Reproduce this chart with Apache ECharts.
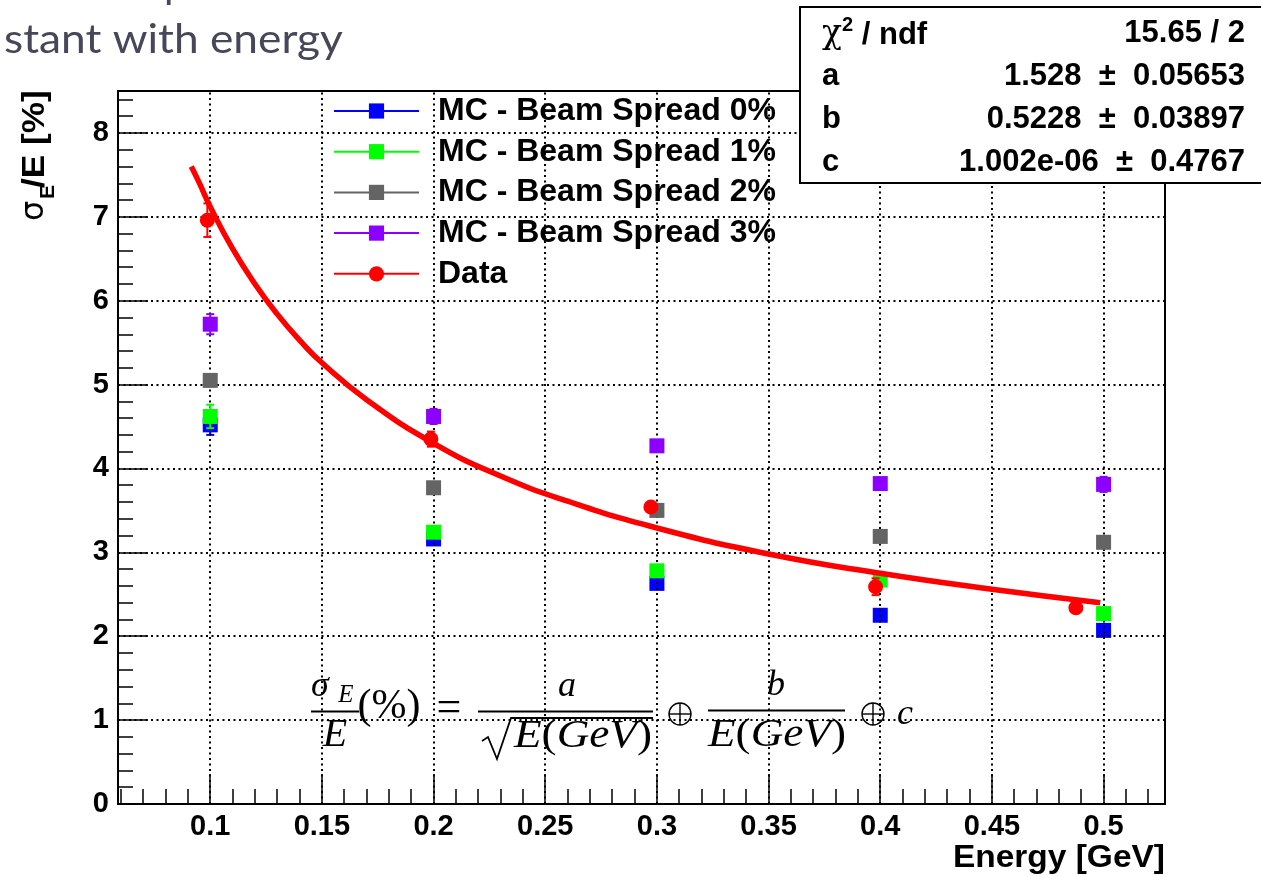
<!DOCTYPE html>
<html><head><meta charset="utf-8">
<script src="https://cdn.jsdelivr.net/npm/echarts@6/dist/echarts.min.js"></script>
<style>html,body{margin:0;padding:0;background:#fff}#c{width:1261px;height:876px}</style>
</head><body><div id="c"></div>
<script>
// ---------- data ----------
const energies = [0.1, 0.2, 0.3, 0.4, 0.5];
const mc0 = [4.52, 3.16, 2.63, 2.25, 2.07];
const mc0Err = [0.12, 0.03, 0.03, 0.03, 0.03];
const mc1 = [4.62, 3.24, 2.78, 2.67, 2.27];
const mc1Err = [0.14, 0.04, 0.03, 0.03, 0.03];
const mc2 = [5.05, 3.77, 3.50, 3.19, 3.12];
const mc2Err = [0.07, 0.04, 0.03, 0.03, 0.03];
const mc3 = [5.72, 4.62, 4.27, 3.82, 3.81];
const mc3Err = [0.12, 0.09, 0.04, 0.04, 0.09];
const dataE = [0.0987, 0.1988, 0.2973, 0.3979, 0.4876];
const dataV = [6.96, 4.35, 3.54, 2.59, 2.34];
const dataErr = [0.20, 0.09, 0.03, 0.10, 0.03];
const fitE = [0.0915, 0.095, 0.1, 0.11, 0.12, 0.13, 0.14, 0.15, 0.17, 0.2, 0.23, 0.26, 0.3, 0.35, 0.4, 0.45, 0.4985];
const fitV = [7.60, 7.41, 7.12, 6.62, 6.20, 5.84, 5.53, 5.26, 4.82, 4.30, 3.91, 3.61, 3.29, 2.98, 2.75, 2.56, 2.40];
const legendNames = ['MC - Beam Spread 0%', 'MC - Beam Spread 1%', 'MC - Beam Spread 2%', 'MC - Beam Spread 3%', 'Data'];
const xTicks = [0.1, 0.15, 0.2, 0.25, 0.3, 0.35, 0.4, 0.45, 0.5];
const xTickLabels = ['0.1', '0.15', '0.2', '0.25', '0.3', '0.35', '0.4', '0.45', '0.5'];
const yTicks = [0, 1, 2, 3, 4, 5, 6, 7, 8];
const yTickLabels = ['0', '1', '2', '3', '4', '5', '6', '7', '8'];
const statsLabels = ['a', 'b', 'c'];
const statsChi = '15.65 / 2';
const statsValues = ['1.528  ±  0.05653', '0.5228  ±  0.03897', '1.002e-06  ±  0.4767'];
const xTitle = 'Energy [GeV]';
const slideText = 'stant with energy';

// ---------- helpers ----------
const FF = "'Liberation Sans', Arial, Helvetica, sans-serif";
const SERIF = "'Liberation Serif', 'DejaVu Serif', serif";
const X_MIN = 0.0587, X_MAX = 0.5275, Y_MIN = 0, Y_MAX = 8.5;
const xMinor = []; for (let i = 6; i <= 52; i++) xMinor.push(+(i / 100).toFixed(2));
const yMinor = []; for (let i = 0; i <= 42; i++) yMinor.push(+(i / 5).toFixed(1));

const pts = (xs, ys) => xs.map((x, i) => [x, ys[i]]);
const errPts = (xs, ys, es) => xs.map((x, i) => [x, ys[i], es[i]]);

function markerSeries(name, xs, ys, color, symbol, z) {
  return {
    type: 'line', name, data: pts(xs, ys), symbol, symbolSize: 15, showSymbol: true, showAllSymbol: true,
    itemStyle: { color }, lineStyle: { color, width: 2, opacity: 0 }, z, silent: true,
    emphasis: { disabled: true }
  };
}
function errorSeries(xs, ys, es, color, z) {
  return {
    type: 'custom', data: errPts(xs, ys, es), z, silent: true, encode: { x: 0, y: 1 },
    renderItem(params, api) {
      const x = api.value(0), y = api.value(1), e = api.value(2);
      const t = api.coord([x, y + e]), b = api.coord([x, y - e]);
      const cw = 4, st = { stroke: color, lineWidth: 2 };
      return { type: 'group', children: [
        { type: 'line', shape: { x1: t[0], y1: t[1], x2: b[0], y2: b[1] }, style: st },
        { type: 'line', shape: { x1: t[0] - cw, y1: t[1], x2: t[0] + cw, y2: t[1] }, style: st },
        { type: 'line', shape: { x1: b[0] - cw, y1: b[1], x2: b[0] + cw, y2: b[1] }, style: st }
      ]};
    }
  };
}

const colors = ['#0000ff', '#00ff00', '#646464', '#8c00ff', '#ff0000'];

const chart = echarts.init(document.getElementById('c'), null, { renderer: 'canvas' });

const gridLines = [
  ...xTicks.map(v => ({ xAxis: v })),
  ...yTicks.filter(v => v > 0).map(v => ({ yAxis: v }))
];

// formula pieces (decorative text)
const italic = { fontFamily: SERIF, fontStyle: 'italic', fill: '#000' };
const upright = { fontFamily: SERIF, fontStyle: 'normal', fill: '#000' };
function T(text, x, y, size, st, sx) {
  return { type: 'text', x, y, scaleX: sx || 1, silent: true, z: 20,
    style: Object.assign({ text, fontSize: size, align: 'center', verticalAlign: 'middle' }, st) };
}
function richEGeV(x, y) {
  return { type: 'text', x, y, scaleX: 1.13, silent: true, z: 20, style: {
    text: '{i|E}{u|(}{i|GeV}{u|)}', align: 'center', verticalAlign: 'middle',
    rich: { i: Object.assign({ fontSize: 40 }, italic), u: Object.assign({ fontSize: 40 }, upright) } } };
}
function HL(x1, x2, y) {
  return { type: 'line', silent: true, z: 20, shape: { x1, y1: y, x2, y2: y }, style: { stroke: '#000', lineWidth: 1.8 } };
}
function oplus(cx, cy) {
  return { type: 'group', silent: true, z: 20, children: [
    { type: 'circle', shape: { cx, cy, r: 11 }, style: { fill: 'none', stroke: '#000', lineWidth: 1.4 } },
    { type: 'line', shape: { x1: cx - 11, y1: cy, x2: cx + 11, y2: cy }, style: { stroke: '#000', lineWidth: 1.4 } },
    { type: 'line', shape: { x1: cx, y1: cy - 11, x2: cx, y2: cy + 11 }, style: { stroke: '#000', lineWidth: 1.4 } }
  ]};
}

const graphics = [
  // slide title fragment
  { type: 'text', x: 4, y: 40, scaleX: 1.08, silent: true, style: { text: slideText, fontFamily: 'Lato, "Open Sans", sans-serif', fontSize: 41, fill: '#474759', align: 'left', verticalAlign: 'middle' } },
  { type: 'text', x: 164, y: -15, silent: true, style: { text: 'p', fontFamily: 'Lato, "Open Sans", sans-serif', fontSize: 41, fill: '#474759', align: 'left', verticalAlign: 'middle' } },
  // y axis title (rotated)
  { type: 'group', x: 45, y: 221, rotation: Math.PI / 2, silent: true, children: [
    { type: 'text', x: 0, y: -10, style: { text: 'σ', fontFamily: "'DejaVu Sans', sans-serif", fontSize: 32, fill: '#000', align: 'left', verticalAlign: 'middle' } },
    { type: 'text', x: 22, y: 3, style: { text: 'E', fontFamily: FF, fontWeight: 'bold', fontSize: 21, fill: '#000', align: 'left', verticalAlign: 'middle' } },
    { type: 'text', x: 33, y: -10, scaleX: 1.1, style: { text: '/E [%]', fontFamily: FF, fontWeight: 'bold', fontSize: 32, fill: '#000', align: 'left', verticalAlign: 'middle' } }
  ]},
  // x axis title
  { type: 'text', x: 1165, y: 858, scaleX: 1.08, silent: true, style: { text: xTitle, fontFamily: FF, fontWeight: 'bold', fontSize: 31, fill: '#000', align: 'right', verticalAlign: 'middle' } },
  // stats box
  { type: 'rect', z: 30, silent: true, shape: { x: 800, y: 7, width: 470, height: 176 }, style: { fill: '#fff', stroke: '#000', lineWidth: 2 } },
  { type: 'text', z: 31, x: 822, y: 33, silent: true, style: {
      text: '{c|χ}{s|2}{b| / ndf}', align: 'left', verticalAlign: 'middle',
      rich: { c: { fontFamily: "'DejaVu Serif', serif", fontSize: 33, fill: '#000', verticalAlign: 'bottom', lineHeight: 36 },
              s: { fontFamily: FF, fontWeight: 'bold', fontSize: 20, fill: '#000', verticalAlign: 'top', lineHeight: 36 },
              b: { fontFamily: FF, fontWeight: 'bold', fontSize: 31, fill: '#000', verticalAlign: 'bottom', lineHeight: 36 } } } },
  { type: 'text', z: 31, x: 1245, y: 33, silent: true, style: { text: statsChi, fontFamily: FF, fontWeight: 'bold', fontSize: 31, fill: '#000', align: 'right', verticalAlign: 'middle' } },
  ...statsLabels.map((l, i) => ({ type: 'text', z: 31, x: 822, y: 76 + i * 43, silent: true, style: { text: l, fontFamily: FF, fontWeight: 'bold', fontSize: 31, fill: '#000', align: 'left', verticalAlign: 'middle' } })),
  ...statsValues.map((v, i) => ({ type: 'text', z: 31, x: 1245, y: 76 + i * 43, silent: true, style: { text: v, fontFamily: FF, fontWeight: 'bold', fontSize: 31, fill: '#000', align: 'right', verticalAlign: 'middle' } })),
  // formula
  T('σ', 320, 687, 36, italic),
  T('E', 346, 695, 25, italic),
  HL(311, 359, 711.5),
  T('E', 335, 735, 40, italic),
  T('(%)', 389, 707, 42, upright),
  T('=', 449, 709, 44, upright),
  T('a', 567, 687, 36, italic),
  HL(478, 653, 711.5),
  { type: 'polyline', silent: true, z: 20, shape: { points: [[482, 741], [488, 737], [497, 759], [511, 718], [653, 718]] }, style: { stroke: '#000', lineWidth: 1.8, fill: 'none' } },
  richEGeV(583, 736),
  oplus(680, 714),
  T('b', 776, 686, 36, italic),
  HL(708, 845, 710.5),
  richEGeV(777, 735),
  oplus(873, 714),
  T('c', 905, 715, 36, italic)
];

const option = {
  animation: false,
  backgroundColor: '#fff',
  grid: { left: 118, top: 91, width: 1047, height: 713, show: true, borderColor: '#000', borderWidth: 2, backgroundColor: 'transparent', containLabel: false },
  legend: {
    orient: 'vertical', left: 333, top: 95, padding: 0, itemWidth: 85, itemHeight: 19, itemGap: 8.7,
    data: legendNames, selectedMode: false,
    textStyle: { fontSize: 32, fontWeight: 'bold', fontFamily: FF, color: '#000', lineHeight: 30, padding: [0, 0, 0, 14] },
    lineStyle: { width: 2, opacity: 1 }
  },
  xAxis: [
    { type: 'value', min: X_MIN, max: X_MAX, position: 'bottom',
      axisLine: { show: true, onZero: false, lineStyle: { color: '#000', width: 2 } },
      axisTick: { show: true, inside: true, length: 30, customValues: xTicks, lineStyle: { color: '#000', width: 1.5 } },
      axisLabel: { show: true, customValues: xTicks, formatter: v => { const i = xTicks.findIndex(t => Math.abs(t - v) < 1e-9); return i >= 0 ? xTickLabels[i] : ''; },
        color: '#000', fontSize: 29, fontWeight: 'bold', fontFamily: FF, margin: 8 },
      splitLine: { show: false } },
    { type: 'value', min: X_MIN, max: X_MAX, position: 'bottom',
      axisLine: { show: false, onZero: false },
      axisTick: { show: true, inside: true, length: 15, customValues: xMinor, lineStyle: { color: '#000', width: 1.5 } },
      axisLabel: { show: false }, splitLine: { show: false } }
  ],
  yAxis: [
    { type: 'value', min: Y_MIN, max: Y_MAX, position: 'left',
      axisLine: { show: true, onZero: false, lineStyle: { color: '#000', width: 2 } },
      axisTick: { show: true, inside: true, length: 30, customValues: yTicks, lineStyle: { color: '#000', width: 1.5 } },
      axisLabel: { show: true, customValues: yTicks, formatter: v => { const i = yTicks.findIndex(t => Math.abs(t - v) < 1e-9); return i >= 0 ? yTickLabels[i] : ''; },
        color: '#000', fontSize: 29, fontWeight: 'bold', fontFamily: FF, margin: 9 },
      splitLine: { show: false } },
    { type: 'value', min: Y_MIN, max: Y_MAX, position: 'left',
      axisLine: { show: false, onZero: false },
      axisTick: { show: true, inside: true, length: 15, customValues: yMinor, lineStyle: { color: '#000', width: 1.5 } },
      axisLabel: { show: false }, splitLine: { show: false } }
  ],
  series: [
    { type: 'line', name: 'grid', data: [], silent: true, z: 1,
      markLine: { silent: true, symbol: ['none', 'none'], label: { show: false }, animation: false,
        lineStyle: { color: '#000', type: [2, 3.5], width: 2 }, emphasis: { disabled: true }, data: gridLines } },
    errorSeries(energies, mc0, mc0Err, colors[0], 3),
    markerSeries(legendNames[0], energies, mc0, colors[0], 'rect', 4),
    errorSeries(energies, mc1, mc1Err, colors[1], 5),
    markerSeries(legendNames[1], energies, mc1, colors[1], 'rect', 6),
    errorSeries(energies, mc2, mc2Err, colors[2], 7),
    markerSeries(legendNames[2], energies, mc2, colors[2], 'rect', 8),
    errorSeries(energies, mc3, mc3Err, colors[3], 9),
    markerSeries(legendNames[3], energies, mc3, colors[3], 'rect', 10),
    errorSeries(dataE, dataV, dataErr, colors[4], 11),
    markerSeries(legendNames[4], dataE, dataV, colors[4], 'circle', 12),
    { type: 'line', name: 'fit', data: pts(fitE, fitV), smooth: true, symbol: 'none', silent: true, z: 13,
      lineStyle: { color: '#ff0000', width: 5.5 }, emphasis: { disabled: true } }
  ],
  graphic: graphics
};
chart.setOption(option);
</script>
</body></html>
